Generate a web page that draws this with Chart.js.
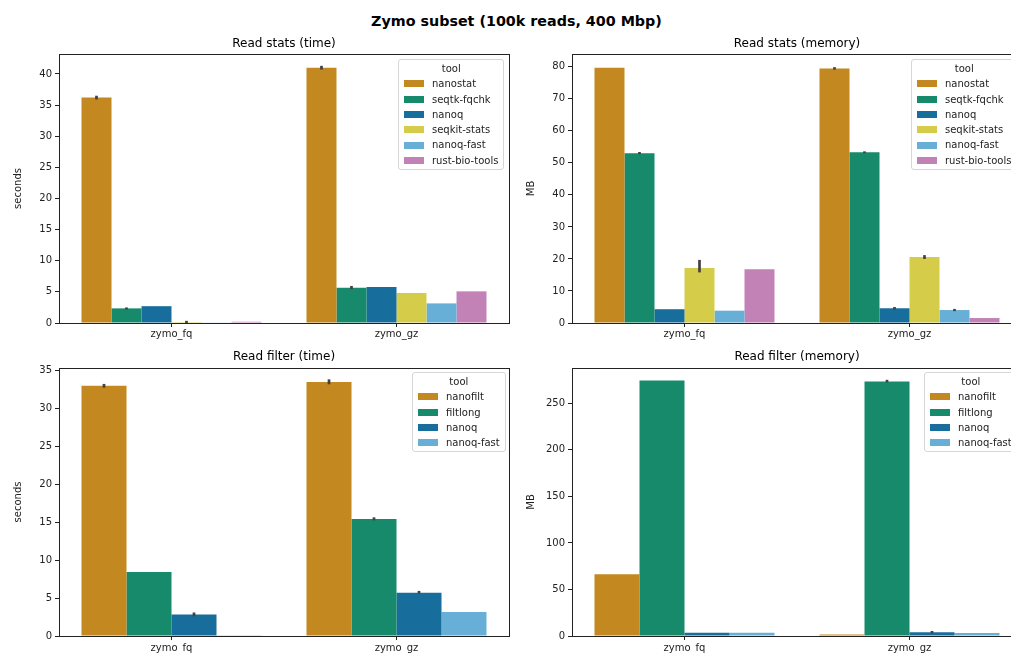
<!DOCTYPE html>
<html>
<head>
<meta charset="utf-8">
<script src="https://cdn.jsdelivr.net/npm/chart.js@4.4.0/dist/chart.umd.min.js"></script>
<style>
  html, body { margin: 0; padding: 0; background: #fff; overflow: hidden; width: 1011px; height: 653px; }
  body { position: relative; font-family: "DejaVu Sans", sans-serif; }
  #title { position: absolute; left: 0; width: 1033px; top: 12px; text-align: center; font-weight: bold; font-size: 14.3px; line-height: 18px; color: #000; }
  canvas { position: absolute; }
  .legend { position: absolute; background: rgba(255,255,255,0.85); border: 1px solid #d6d6d6; border-radius: 3px; padding: 1px 5px 1px 5px; font-size: 10px; color: #222; white-space: nowrap; }
  .legend .lt { text-align: center; height: 15.3px; line-height: 15.3px; }
  .legend .le { height: 15.3px; line-height: 15.3px; display: flex; align-items: center; }
  .legend .sw { display: inline-block; width: 20px; height: 7px; margin-right: 8px; }
</style>
</head>
<body>
<div id="title">Zymo subset (100k reads, 400 Mbp)</div>
<canvas id="c1" width="520" height="320" style="left:0px;top:30px"></canvas>
<canvas id="c2" width="520" height="320" style="left:513px;top:30px"></canvas>
<canvas id="c3" width="520" height="323" style="left:0px;top:340px"></canvas>
<canvas id="c4" width="520" height="323" style="left:513px;top:340px"></canvas>
<script>
// ---- data ----
const categories = ["zymo_fq", "zymo_gz"];

const statsTools = ["nanostat", "seqtk-fqchk", "nanoq", "seqkit-stats", "nanoq-fast", "rust-bio-tools"];
const statsTimeFq = [36.2, 2.35, 2.7, 0.15, 0.1, 0.2];
const statsTimeGz = [41.0, 5.68, 5.78, 4.82, 3.15, 5.08];
const statsTimeErrFq = [[35.9, 36.5], [2.15, 2.5], null, [0.0, 0.35], null, null];
const statsTimeErrGz = [[40.7, 41.3], [5.45, 5.95], null, null, null, null];

const statsMemFq = [79.7, 53.0, 4.3, 17.2, 3.85, 16.8];
const statsMemGz = [79.5, 53.3, 4.6, 20.6, 4.05, 1.55];
const statsMemErrFq = [null, [52.7, 53.4], null, [15.8, 19.7], null, null];
const statsMemErrGz = [[79.1, 79.9], [53.0, 53.6], [4.2, 5.0], [20.0, 21.2], [3.7, 4.4], null];

const filterTools = ["nanofilt", "filtlong", "nanoq", "nanoq-fast"];
const filterTimeFq = [33.0, 8.45, 2.82, 0.1];
const filterTimeGz = [33.5, 15.43, 5.72, 3.17];
const filterTimeErrFq = [[32.75, 33.25], null, [2.6, 3.1], null];
const filterTimeErrGz = [[33.2, 33.85], [15.25, 15.65], [5.6, 5.95], null];

const filterMemFq = [66.3, 274.6, 3.5, 3.4];
const filterMemGz = [1.5, 273.6, 4.0, 3.3];
const filterMemErrFq = [null, null, null, null];
const filterMemErrGz = [null, [272.6, 275.3], [2.6, 5.4], null];

const yTicks = { statsTime: [0, 43.2, 5], statsMem: [0, 84, 10], filterTime: [0, 35.35, 5], filterMem: [0, 288, 50] };

const toolColors = {
  "nanostat": "#C38820", "nanofilt": "#C38820",
  "seqtk-fqchk": "#168A6A", "filtlong": "#168A6A",
  "nanoq": "#176D9C",
  "seqkit-stats": "#D5CD4A",
  "nanoq-fast": "#68AFD7",
  "rust-bio-tools": "#C282B6"
};

// ---- plugins ----
const errorBars = {
  id: 'errorBars',
  afterDatasetsDraw(chart) {
    const ctx = chart.ctx, ys = chart.scales.y;
    chart.data.datasets.forEach((ds, i) => {
      const meta = chart.getDatasetMeta(i);
      (ds.errs || []).forEach((e, j) => {
        if (!e) return;
        const bar = meta.data[j];
        ctx.save();
        ctx.strokeStyle = '#424242';
        ctx.lineWidth = 2.7;
        ctx.beginPath();
        ctx.moveTo(bar.x, ys.getPixelForValue(e[0]));
        ctx.lineTo(bar.x, ys.getPixelForValue(e[1]));
        ctx.stroke();
        ctx.restore();
      });
    });
  }
};
const frame = {
  id: 'frame',
  afterDraw(chart) {
    const a = chart.chartArea, ctx = chart.ctx;
    ctx.save();
    ctx.strokeStyle = '#222';
    ctx.lineWidth = 1;
    ctx.strokeRect(Math.round(a.left) + 0.5, Math.round(a.top) + 0.5, Math.round(a.right - a.left), Math.round(a.bottom - a.top));
    // subplot title centred over the axes area
    const o = chart.options.subTitle;
    ctx.fillStyle = '#000';
    ctx.font = '12px "DejaVu Sans"';
    ctx.textAlign = 'center';
    ctx.textBaseline = 'middle';
    ctx.fillText(o.text, (a.left + a.right) / 2, o.y);
    ctx.restore();
  }
};

function makeChart(id, tools, fq, gz, errFq, errGz, yr, title, ylabel, titleY, topPad, xPad) {
  const datasets = tools.map((t, i) => ({
    label: t,
    data: [fq[i], gz[i]],
    errs: [errFq[i], errGz[i]],
    backgroundColor: toolColors[t],
    borderWidth: 0,
    categoryPercentage: 0.8,
    barPercentage: 1.0
  }));
  return new Chart(document.getElementById(id), {
    type: 'bar',
    data: { labels: categories, datasets },
    plugins: [errorBars, frame],
    options: {
      responsive: false,
      animation: false,
      devicePixelRatio: 1,
      subTitle: { text: title, y: titleY },
      layout: { padding: { left: 0, right: 11, top: topPad, bottom: 0 } },
      plugins: {
        legend: { display: false },
        tooltip: { enabled: false },
        title: { display: false }
      },
      scales: {
        x: {
          type: 'category',
          offset: true,
          grid: { display: true, drawOnChartArea: false, drawTicks: true, tickLength: 4, offset: false, color: '#222', lineWidth: 1 },
          border: { display: false },
          ticks: { color: '#222', font: { family: 'DejaVu Sans', size: 10 }, padding: xPad, maxRotation: 0 },
          afterFit(s) { s.height = 27; }
        },
        y: {
          type: 'linear',
          min: yr[0], max: yr[1],
          grid: { display: true, drawOnChartArea: false, drawTicks: true, tickLength: 4, color: '#222', lineWidth: 1 },
          border: { display: false },
          ticks: { stepSize: yr[2], includeBounds: false, color: '#222', font: { family: 'DejaVu Sans', size: 10 }, padding: 3 },
          title: { display: true, text: ylabel, color: '#222', font: { family: 'DejaVu Sans', size: 10 }, padding: { top: 12, bottom: 0 } },
          afterFit(s) { s.width = 59; }
        }
      }
    }
  });
}

makeChart('c1', statsTools, statsTimeFq, statsTimeGz, statsTimeErrFq, statsTimeErrGz, yTicks.statsTime, 'Read stats (time)', 'seconds', 14, 24, 1.5);
makeChart('c2', statsTools, statsMemFq, statsMemGz, statsMemErrFq, statsMemErrGz, yTicks.statsMem, 'Read stats (memory)', 'MB', 14, 24, 1.5);
makeChart('c3', filterTools, filterTimeFq, filterTimeGz, filterTimeErrFq, filterTimeErrGz, yTicks.filterTime, 'Read filter (time)', 'seconds', 17, 28, 2);
makeChart('c4', filterTools, filterMemFq, filterMemGz, filterMemErrFq, filterMemErrGz, yTicks.filterMem, 'Read filter (memory)', 'MB', 17, 28, 2);

// ---- legends (HTML, real text) ----
function makeLegend(tools, style) {
  const d = document.createElement('div');
  d.className = 'legend';
  Object.assign(d.style, style);
  let h = '<div class="lt">tool</div>';
  tools.forEach(t => { h += '<div class="le"><span class="sw" style="background:' + toolColors[t] + '"></span>' + t + '</div>'; });
  d.innerHTML = h;
  document.body.appendChild(d);
}
makeLegend(statsTools, { left: '398px', top: '59px' });
makeLegend(statsTools, { left: '911px', top: '59px' });
makeLegend(filterTools, { left: '412px', top: '372px' });
makeLegend(filterTools, { left: '924px', top: '372px' });
</script>
</body>
</html>
